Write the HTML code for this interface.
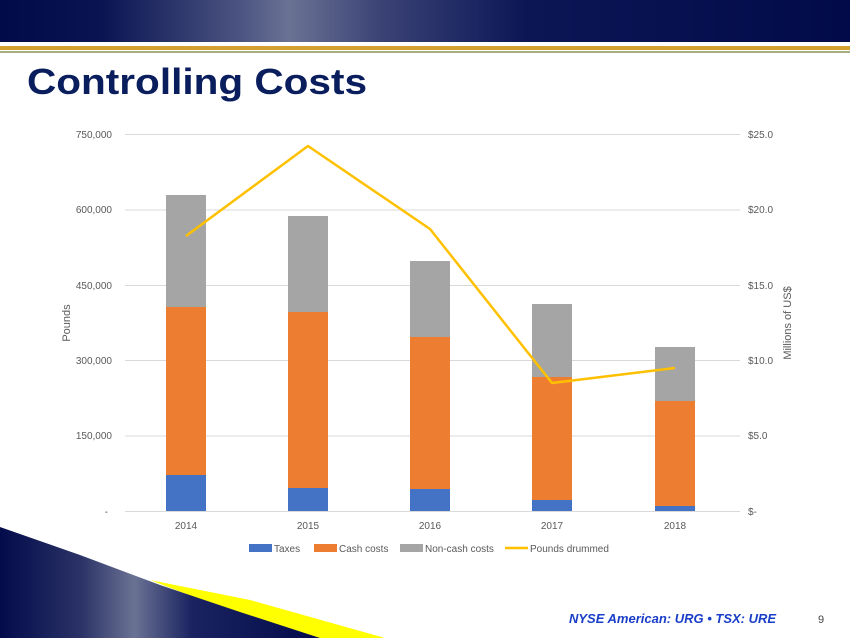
<!DOCTYPE html>
<html><head><style>
body{margin:0;width:850px;height:638px;overflow:hidden;background:#fff;font-family:"Liberation Sans",sans-serif}
</style></head><body>
<svg width="850" height="638" xmlns="http://www.w3.org/2000/svg" style="position:absolute;left:0;top:0">
<defs>
<linearGradient id="hg" x1="0" y1="0" x2="850" y2="0" gradientUnits="userSpaceOnUse">
<stop offset="0" stop-color="#020a4a"/><stop offset="0.12" stop-color="#0a1452"/><stop offset="0.28" stop-color="#4a5380"/><stop offset="0.34" stop-color="#6a7294"/><stop offset="0.45" stop-color="#3a4275"/><stop offset="0.62" stop-color="#0c1655"/><stop offset="1" stop-color="#020a4a"/>
</linearGradient>
<linearGradient id="bg" x1="0" y1="0" x2="320" y2="0" gradientUnits="userSpaceOnUse">
<stop offset="0" stop-color="#030b4b"/><stop offset="0.25" stop-color="#2a3266"/><stop offset="0.42" stop-color="#6a7294"/><stop offset="0.6" stop-color="#1a2360"/><stop offset="1" stop-color="#030b4b"/>
</linearGradient>
</defs>
<rect x="0" y="0" width="850" height="42" fill="url(#hg)"/>
<rect x="0" y="46" width="850" height="4" fill="#d4a030"/>
<rect x="0" y="51" width="850" height="2" fill="#a8ae80"/>
<text x="27" y="94" font-size="36" font-weight="bold" fill="#0a1e5e" textLength="340" lengthAdjust="spacingAndGlyphs">Controlling Costs</text>
<polygon points="150,580 250,600 385,638 300,638" fill="#ffff00"/>
<polygon points="0,527 80,555 160,585 240,612 320,638 0,638" fill="url(#bg)"/>
<g stroke="#d9d9d9" stroke-width="1">
<line x1="125" y1="134.5" x2="740" y2="134.5"/><line x1="125" y1="210" x2="740" y2="210"/><line x1="125" y1="285.5" x2="740" y2="285.5"/><line x1="125" y1="360.5" x2="740" y2="360.5"/><line x1="125" y1="436" x2="740" y2="436"/><line x1="125" y1="511.5" x2="740" y2="511.5"/>
</g>
<g font-size="10" fill="#595959" text-anchor="end">
<text x="112" y="138">750,000</text><text x="112" y="213">600,000</text><text x="112" y="289">450,000</text><text x="112" y="364">300,000</text><text x="112" y="439">150,000</text><text x="108" y="515">-</text>
</g>
<g font-size="10" fill="#595959">
<text x="748" y="138">$25.0</text><text x="748" y="213">$20.0</text><text x="748" y="289">$15.0</text><text x="748" y="364">$10.0</text><text x="748" y="439">$5.0</text><text x="748" y="515">$-</text>
</g>
<text transform="translate(70,323) rotate(-90)" font-size="11" fill="#595959" text-anchor="middle">Pounds</text>
<text transform="translate(791,323) rotate(-90)" font-size="11" fill="#595959" text-anchor="middle">Millions of US$</text>
<g font-size="10" fill="#595959" text-anchor="middle">
<text x="186" y="529">2014</text><text x="308" y="529">2015</text><text x="430" y="529">2016</text><text x="552" y="529">2017</text><text x="675" y="529">2018</text>
</g>
<g>
<rect x="166" y="195" width="40" height="112" fill="#a5a5a5"/><rect x="166" y="307" width="40" height="168" fill="#ed7d31"/><rect x="166" y="475" width="40" height="36" fill="#4472c4"/>
<rect x="288" y="216" width="40" height="96" fill="#a5a5a5"/><rect x="288" y="312" width="40" height="176" fill="#ed7d31"/><rect x="288" y="488" width="40" height="23" fill="#4472c4"/>
<rect x="410" y="261" width="40" height="76" fill="#a5a5a5"/><rect x="410" y="337" width="40" height="152" fill="#ed7d31"/><rect x="410" y="489" width="40" height="22" fill="#4472c4"/>
<rect x="532" y="304" width="40" height="73" fill="#a5a5a5"/><rect x="532" y="377" width="40" height="123" fill="#ed7d31"/><rect x="532" y="500" width="40" height="11" fill="#4472c4"/>
<rect x="655" y="347" width="40" height="54" fill="#a5a5a5"/><rect x="655" y="401" width="40" height="105" fill="#ed7d31"/><rect x="655" y="506" width="40" height="5" fill="#4472c4"/>
</g>
<polyline points="186,236 308,146 430,229 552,383 675,368" fill="none" stroke="#ffc000" stroke-width="2.5" stroke-linejoin="round"/>
<g font-size="10" fill="#595959">
<rect x="249" y="544" width="23" height="8" fill="#4472c4"/><text x="274" y="552">Taxes</text>
<rect x="314" y="544" width="23" height="8" fill="#ed7d31"/><text x="339" y="552">Cash costs</text>
<rect x="400" y="544" width="23" height="8" fill="#a5a5a5"/><text x="425" y="552">Non-cash costs</text>
<line x1="505" y1="548" x2="528" y2="548" stroke="#ffc000" stroke-width="2.5"/><text x="530" y="552">Pounds drummed</text>
</g>
<text x="569" y="623" font-size="13" font-weight="bold" font-style="italic" fill="#1a3ec8">NYSE American: URG • TSX: URE</text>
<text x="818" y="623" font-size="11" fill="#444">9</text>
</svg>
</body></html>
